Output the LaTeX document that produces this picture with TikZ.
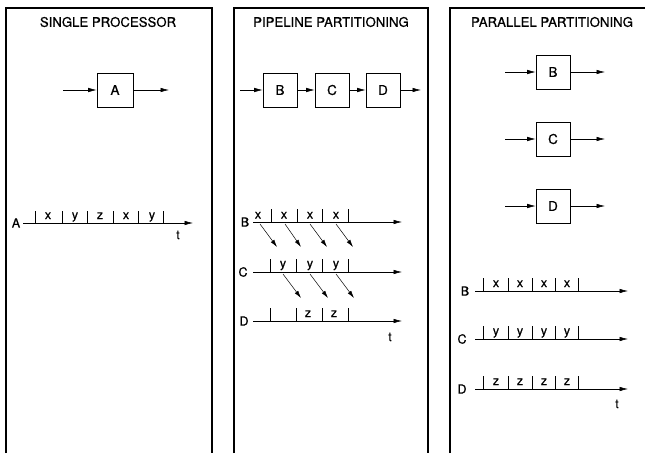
\documentclass[tikz,border=0pt]{standalone}
\usepackage{fontspec}
\setmainfont[FakeBold=0.7]{TeX Gyre Heros}
\usetikzlibrary{arrows.meta}
\begin{document}
\begin{tikzpicture}[x=1pt,y=-1pt,
  panel/.style={line width=1.1pt},
  blk/.style={draw,line width=0.6pt,minimum width=34pt,minimum height=34pt,inner sep=0pt,font=\fontsize{13.5}{13.5}\selectfont},
  flow/.style={line width=0.6pt,-{Latex[length=8.5pt,width=4.5pt]}},
  axisline/.style={line width=0.6pt,-{Latex[length=8.5pt,width=4.5pt]}},
  tickline/.style={line width=0.5pt},
  diag/.style={line width=0.5pt,-{Latex[length=7.5pt,width=4.2pt]}},
  ttl/.style={font=\fontsize{13.2}{13.2}\selectfont},
  lab/.style={font=\fontsize{12.5}{12.5}\selectfont,inner sep=0pt},
  slot/.style={font=\fontsize{12.5}{12.5}\selectfont,inner sep=0pt,anchor=base},
]
\useasboundingbox (0,0) rectangle (645,453);

% panels
\draw[panel] (6,453) -- (6,8) -- (212,8) -- (212,453);
\draw[panel] (234,453) -- (234,8) -- (428,8) -- (428,453);
\draw[panel] (450,453) -- (450,8) -- (645,8);

% titles
\node[ttl] (t1) at (108,22) {SINGLE PROCESSOR};
\node[ttl] (t2) at (331,22) {PIPELINE PARTITIONING};
\node[ttl] (t3) at (552,22) {PARALLEL PARTITIONING};

% ---------- single processor
\node[blk,minimum width=36pt] (A) at (115,90) {A};
\coordinate (Ain) at (63,90);
\coordinate (Aout) at (169,90);
\draw[flow] (Ain) -- (A);
\draw[flow] (A) -- (Aout);

\node[lab] (rA) at (16,223) {A};
\coordinate (a0) at (23,223);
\coordinate (a1) at (193,223);
\draw[axisline] (a0) -- (a1);
\foreach \x in {35,62,87,113,138,163} \draw[tickline] (\x,223) -- (\x,211);
\foreach \x/\l in {48/x,75/y,100/z,126/x,152/y} \node[slot] (sa\x) at (\x,219) {\l};
\node[lab] (tA) at (178,235) {t};

% ---------- pipeline
\node[blk] (pB) at (280,90) {B};
\node[blk] (pC) at (332,90) {C};
\node[blk] (pD) at (383,90) {D};
\coordinate (pin) at (240,90);
\coordinate (pout) at (421,90);
\draw[flow] (pin) -- (pB);
\draw[flow] (pB) -- (pC);
\draw[flow] (pC) -- (pD);
\draw[flow] (pD) -- (pout);

% B row
\node[lab] (prB) at (245,222) {B};
\coordinate (pb0) at (253,222);
\coordinate (pb1) at (402,222);
\draw[axisline] (pb0) -- (pb1);
\foreach \x in {271,297,322,348} \draw[tickline] (\x,222) -- (\x,209);
\foreach \x in {258,284,310,336} \node[slot] (px\x) at (\x,218.5) {x};

% C row
\node[lab] (prC) at (243,272) {C};
\coordinate (pc0) at (253,272);
\coordinate (pc1) at (402,272);
\draw[axisline] (pc0) -- (pc1);
\foreach \x in {270,296,322,348} \draw[tickline] (\x,272) -- (\x,259);
\foreach \x in {283,310,336} \node[slot] (py\x) at (\x,267.5) {y};

% D row
\node[lab] (prD) at (244,321) {D};
\coordinate (pd0) at (253,321);
\coordinate (pd1) at (402,321);
\draw[axisline] (pd0) -- (pd1);
\foreach \x in {270,296,322,348} \draw[tickline] (\x,321) -- (\x,308);
\foreach \x in {308,334} \node[slot] (pz\x) at (\x,317) {z};
\node[lab] (tP) at (390,337) {t};

% diagonal hand-offs
\foreach \s/\e in {260/277,285/301,310/327,336/353} {
  \coordinate (bs\s) at (\s,224);
  \coordinate (be\s) at (\e,247);
  \draw[diag] (bs\s) -- (be\s);
}
\foreach \s/\e in {283/301,310/328,336/354} {
  \coordinate (cs\s) at (\s,274);
  \coordinate (ce\s) at (\e,298);
  \draw[diag] (cs\s) -- (ce\s);
}

% ---------- parallel
\node[blk] (qB) at (553,72) {B};
\node[blk] (qC) at (553,139) {C};
\node[blk] (qD) at (553,206) {D};
\foreach \n/\y in {B/72,C/139,D/206} {
  \coordinate (qin\n) at (505,\y);
  \coordinate (qout\n) at (605,\y);
  \draw[flow] (qin\n) -- (q\n);
  \draw[flow] (q\n) -- (qout\n);
}

\foreach \n/\y/\l/\lx in {B/291/x/465,C/339/y/462,D/389/z/462} {
  \node[lab] (qr\n) at (\lx,\y) {\n};
  \coordinate (q0\n) at (475,\y);
  \coordinate (q1\n) at (628,\y);
  \draw[axisline] (q0\n) -- (q1\n);
  \foreach \x in {483,508,532,555,578} \draw[tickline] (\x,\y) -- (\x,\y-13);
  \foreach \x in {496,520,544,567} \node[slot] (qs\n\x) at (\x,\y-4) {\l};
}
\node[lab] (tQ) at (617,404) {t};
\end{tikzpicture}
\end{document}
